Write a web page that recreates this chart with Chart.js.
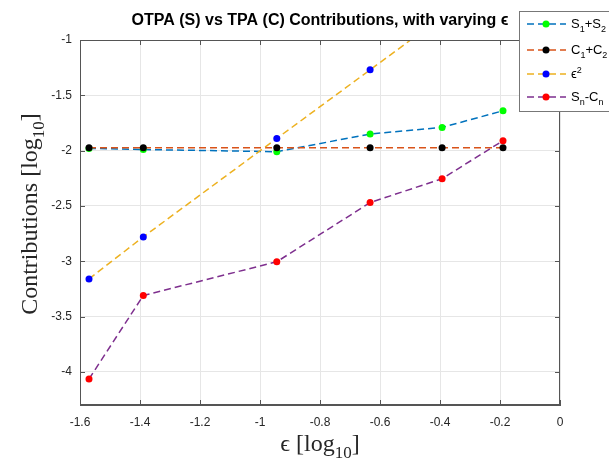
<!DOCTYPE html>
<html>
<head>
<meta charset="utf-8">
<script src="https://cdn.jsdelivr.net/npm/chart.js@4.4.1/dist/chart.umd.min.js"></script>
<style>
  body { margin: 0; background: #fff; }
  #wrap { position: relative; width: 609px; height: 463px; }
</style>
</head>
<body>
<div id="wrap"><canvas id="chart" width="609" height="463"></canvas></div>
<script>
// x positions (log10 epsilon)
const epsLog = [-1.57, -1.389, -0.944, -0.633, -0.393, -0.19];

// series values (log10 contributions)
const s1s2 = [-1.98, -1.99, -2.01, -1.85, -1.79, -1.64];
const c1c2 = [-1.975, -1.975, -1.975, -1.975, -1.975, -1.975];
const epsSq = [-3.16, -2.78, -1.89, -1.27, -0.79];
const snCn = [-4.065, -3.31, -3.005, -2.47, -2.254, -1.91];

const xTicks = [-1.6, -1.4, -1.2, -1, -0.8, -0.6, -0.4, -0.2, 0];
const yTicks = [-4, -3.5, -3, -2.5, -2, -1.5, -1];

const lineCols = ['#0072BD', '#D95319', '#EDB120', '#7E2F8E'];
const markCols = ['#00FF00', '#000000', '#0000FF', '#FF0000'];

const pts = (ys) => ys.map((y, i) => ({ x: epsLog[i], y: y }));

const series = [
  { label: 'S1+S2', data: pts(s1s2) },
  { label: 'C1+C2', data: pts(c1c2) },
  { label: 'eps2', data: pts(epsSq) },
  { label: 'Sn-Cn', data: pts(snCn) },
];

const datasets = series.map((s, i) => ({
  label: s.label,
  data: s.data,
  showLine: true,
  borderColor: lineCols[i],
  borderWidth: 1.5,
  borderDash: [7, 4],
  pointRadius: 3.5,
  pointBackgroundColor: markCols[i],
  pointBorderColor: markCols[i],
  pointBorderWidth: 0,
  order: 4 - i,  // later series drawn on top, like matlab
}));

const axisCol = '#555555';
const txtCol = '#262626';

// draws a string with sub/superscript parts: parts = [[text, 'n'|'sub'|'sup'], ...]
function richText(ctx, parts, x, y, size, family, align) {
  const widths = parts.map(p => {
    ctx.font = (p[1] === 'n' ? size : Math.round(size * 0.72)) + 'px ' + family;
    return ctx.measureText(p[0]).width;
  });
  const total = widths.reduce((a, b) => a + b, 0);
  let cx = align === 'center' ? x - total / 2 : x;
  ctx.textAlign = 'left';
  ctx.textBaseline = 'alphabetic';
  parts.forEach((p, i) => {
    let dy = 0;
    if (p[1] === 'sub') dy = size * 0.3;
    if (p[1] === 'sup') dy = -size * 0.4;
    ctx.font = (p[1] === 'n' ? size : Math.round(size * 0.72)) + 'px ' + family;
    ctx.fillText(p[0], cx, y + dy);
    cx += widths[i];
  });
}

const extras = {
  id: 'extras',
  afterDraw(chart) {
    const ctx = chart.ctx;
    const a = chart.chartArea;
    const xs = chart.scales.x, ys = chart.scales.y;
    ctx.save();

    // box + inward ticks
    ctx.strokeStyle = axisCol;
    ctx.lineWidth = 1;
    ctx.strokeRect(a.left + 0.5, a.top + 0.5, a.right - a.left - 1, a.bottom - a.top - 1);
    ctx.beginPath();
    xTicks.forEach(v => {
      const px = Math.round(xs.getPixelForValue(v)) + 0.5;
      ctx.moveTo(px, a.bottom); ctx.lineTo(px, a.bottom - 5);
      ctx.moveTo(px, a.top); ctx.lineTo(px, a.top + 5);
    });
    yTicks.forEach(v => {
      const py = Math.round(ys.getPixelForValue(v)) + 0.5;
      ctx.moveTo(a.left, py); ctx.lineTo(a.left + 5, py);
      ctx.moveTo(a.right, py); ctx.lineTo(a.right - 5, py);
    });
    ctx.stroke();

    // title
    ctx.fillStyle = '#000';
    ctx.font = 'bold 16px "Liberation Sans", Arial, sans-serif';
    ctx.textAlign = 'center';
    ctx.textBaseline = 'middle';
    ctx.fillText('OTPA (S) vs TPA (C) Contributions, with varying \u03F5', (a.left + a.right) / 2, 21);

    // axis labels
    ctx.fillStyle = txtCol;
    const serif = '"Liberation Serif", "Times New Roman", serif';
    richText(ctx, [['\u03F5 [log', 'n'], ['10', 'sub'], [']', 'n']], (a.left + a.right) / 2, 451, 24, serif, 'center');
    ctx.save();
    ctx.translate(37, 214);
    ctx.rotate(-Math.PI / 2);
    richText(ctx, [['Contributions [log', 'n'], ['10', 'sub'], [']', 'n']], 0, 0, 24, serif, 'center');
    ctx.restore();

    // legend
    const lx = 519, ly = 11, lw = 130, lh = 100;
    ctx.fillStyle = '#fff';
    ctx.fillRect(lx, ly, lw, lh);
    ctx.strokeStyle = '#777';
    ctx.strokeRect(lx + 0.5, ly + 0.5, lw, lh);
    const rows = [24, 50, 74, 97];
    const labels = [
      [['S', 'n'], ['1', 'sub'], ['+S', 'n'], ['2', 'sub']],
      [['C', 'n'], ['1', 'sub'], ['+C', 'n'], ['2', 'sub']],
      [['\u03F5', 'n'], ['2', 'sup']],
      [['S', 'n'], ['n', 'sub'], ['-C', 'n'], ['n', 'sub']],
    ];
    rows.forEach((ry, i) => {
      ctx.strokeStyle = lineCols[i];
      ctx.lineWidth = 1.5;
      ctx.setLineDash([7, 4]);
      ctx.beginPath();
      ctx.moveTo(527, ry); ctx.lineTo(566, ry);
      ctx.stroke();
      ctx.setLineDash([]);
      ctx.fillStyle = markCols[i];
      ctx.beginPath();
      ctx.arc(546, ry, 3.5, 0, Math.PI * 2);
      ctx.fill();
      ctx.fillStyle = '#000';
      richText(ctx, labels[i], 571, ry + 4, 13, '"Liberation Sans", Arial, sans-serif', 'left');
    });
    ctx.restore();
  }
};

const tickFmt = (v) => {
  const r = Math.round(v * 100) / 100;
  return r === 0 ? '0' : String(r);
};

new Chart(document.getElementById('chart'), {
  type: 'scatter',
  data: { datasets: datasets },
  options: {
    responsive: false,
    animation: false,
    layout: { padding: { left: 0, top: 40, right: 49, bottom: 0 } },
    plugins: { legend: { display: false }, title: { display: false }, tooltip: { enabled: false } },
    scales: {
      x: {
        type: 'linear',
        min: -1.6, max: 0,
        afterFit: (s) => { s.height = 58; },
        afterBuildTicks: (s) => { s.ticks = xTicks.map(v => ({ value: v })); },
        grid: { color: '#e6e6e6', drawTicks: false },
        border: { color: axisCol },
        ticks: { color: txtCol, padding: 10, font: { family: '"Liberation Sans", Arial', size: 12 }, callback: tickFmt, maxRotation: 0 },
      },
      y: {
        type: 'linear',
        min: -4.3, max: -1,
        afterFit: (s) => { s.width = 80; },
        afterBuildTicks: (s) => { s.ticks = yTicks.map(v => ({ value: v })); },
        grid: { color: '#e6e6e6', drawTicks: false },
        border: { color: axisCol },
        ticks: { color: txtCol, padding: 8, font: { family: '"Liberation Sans", Arial', size: 12 }, callback: tickFmt },
      },
    },
  },
  plugins: [extras],
});
</script>
</body>
</html>
